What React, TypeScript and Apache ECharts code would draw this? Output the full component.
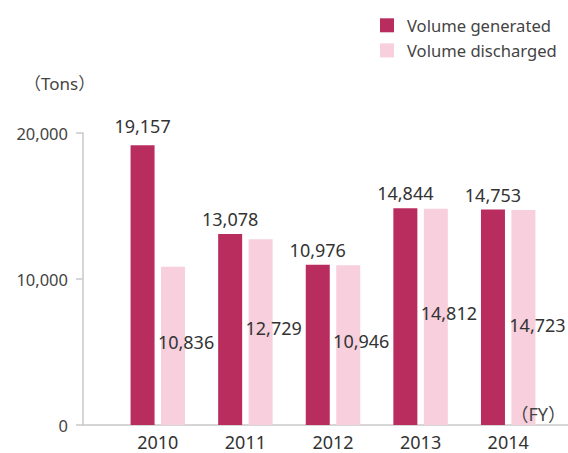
import React, { useEffect, useRef } from "react";
import * as echarts from "echarts";

const categories = ["2010", "2011", "2012", "2013", "2014"];
const generated = [19157, 13078, 10976, 14844, 14753];
const discharged = [10836, 12729, 10946, 14812, 14723];
const seriesNames = ["Volume generated", "Volume discharged"];
const yMin = 0;
const yMax = 20000;
const yInterval = 10000;

const FONT = "'Noto Sans', 'Noto Sans CJK JP', sans-serif";
const fmt = (v: number) => v.toLocaleString("en-US");

export default function App() {
  const ref = useRef<HTMLDivElement>(null);
  useEffect(() => {
    if (!ref.current) return;
    const chart = echarts.init(ref.current, null, { renderer: "svg" });
    const gridBox = { top: 133, bottom: 28 };
    chart.setOption({
      animation: false,
      backgroundColor: "#ffffff",
      title: [
        {
          text: "（Tons）",
          left: 24,
          top: 75,
          padding: 0,
          textStyle: { fontFamily: FONT, fontSize: 17, fontWeight: "normal", color: "#444" },
        },
        {
          text: "（FY）",
          right: 2,
          top: 405,
          padding: 0,
          textStyle: { fontFamily: FONT, fontSize: 18, fontWeight: "normal", color: "#444" },
        },
      ],
      legend: {
        data: seriesNames,
        orient: "vertical",
        left: 380,
        top: 17,
        itemWidth: 14,
        itemHeight: 14,
        itemGap: 8.5,
        icon: "rect",
        padding: 0,
        textStyle: { fontFamily: FONT, fontSize: 16.6, color: "#444", padding: [0, 0, 0, 8] },
      },
      grid: [
        { left: 114, right: 16, ...gridBox },
        { left: 83, right: 0, ...gridBox },
      ],
      xAxis: [
        {
          type: "category",
          gridIndex: 0,
          data: categories,
          axisLine: { show: false },
          axisTick: { show: false },
          axisLabel: { fontFamily: FONT, fontSize: 18, color: "#333", margin: 8 },
        },
        {
          type: "value",
          gridIndex: 1,
          min: 0,
          max: 1,
          axisLine: { show: true, lineStyle: { color: "#c8c8c8", width: 1.5 } },
          axisTick: { show: false },
          axisLabel: { show: false },
          splitLine: { show: false },
        },
      ],
      yAxis: [
        {
          type: "value",
          gridIndex: 0,
          min: yMin,
          max: yMax,
          interval: yInterval,
          show: false,
          splitLine: { show: false },
        },
        {
          type: "value",
          gridIndex: 1,
          min: yMin,
          max: yMax,
          interval: yInterval,
          axisLine: { show: true, lineStyle: { color: "#c8c8c8", width: 1.5 } },
          axisTick: { show: true, length: 7, lineStyle: { color: "#c8c8c8", width: 1.5 } },
          axisLabel: {
            fontFamily: FONT,
            fontSize: 16.5,
            color: "#444",
            margin: 15,
            formatter: (v: number) => fmt(v),
          },
          splitLine: { show: false },
        },
      ],
      series: [
        {
          name: seriesNames[0],
          type: "bar",
          xAxisIndex: 0,
          yAxisIndex: 0,
          barWidth: 24,
          barGap: "27%",
          itemStyle: { color: "#B82D5E" },
          label: {
            show: true,
            position: "top",
            distance: 6,
            fontFamily: FONT,
            fontSize: 18,
            color: "#333",
            formatter: (p: any) => fmt(p.value),
          },
          data: generated.map((v, i) =>
            i === 0 ? { value: v, label: { distance: 10 } } : v
          ),
        },
        {
          name: seriesNames[1],
          type: "bar",
          xAxisIndex: 0,
          yAxisIndex: 0,
          barWidth: 24,
          barGap: "27%",
          itemStyle: { color: "#F7CFDD" },
          label: {
            show: true,
            position: "inside",
            offset: [13, -4],
            fontFamily: FONT,
            fontSize: 18,
            color: "#333",
            formatter: (p: any) => fmt(p.value),
          },
          data: discharged.map((v, i) =>
            i === 4 ? { value: v, label: { offset: [14, 7] } } : v
          ),
        },
      ],
    });
    return () => chart.dispose();
  }, []);
  return (
    <div
      ref={ref}
      style={{ position: "fixed", left: 0, top: 0, width: 568, height: 453 }}
    />
  );
}
